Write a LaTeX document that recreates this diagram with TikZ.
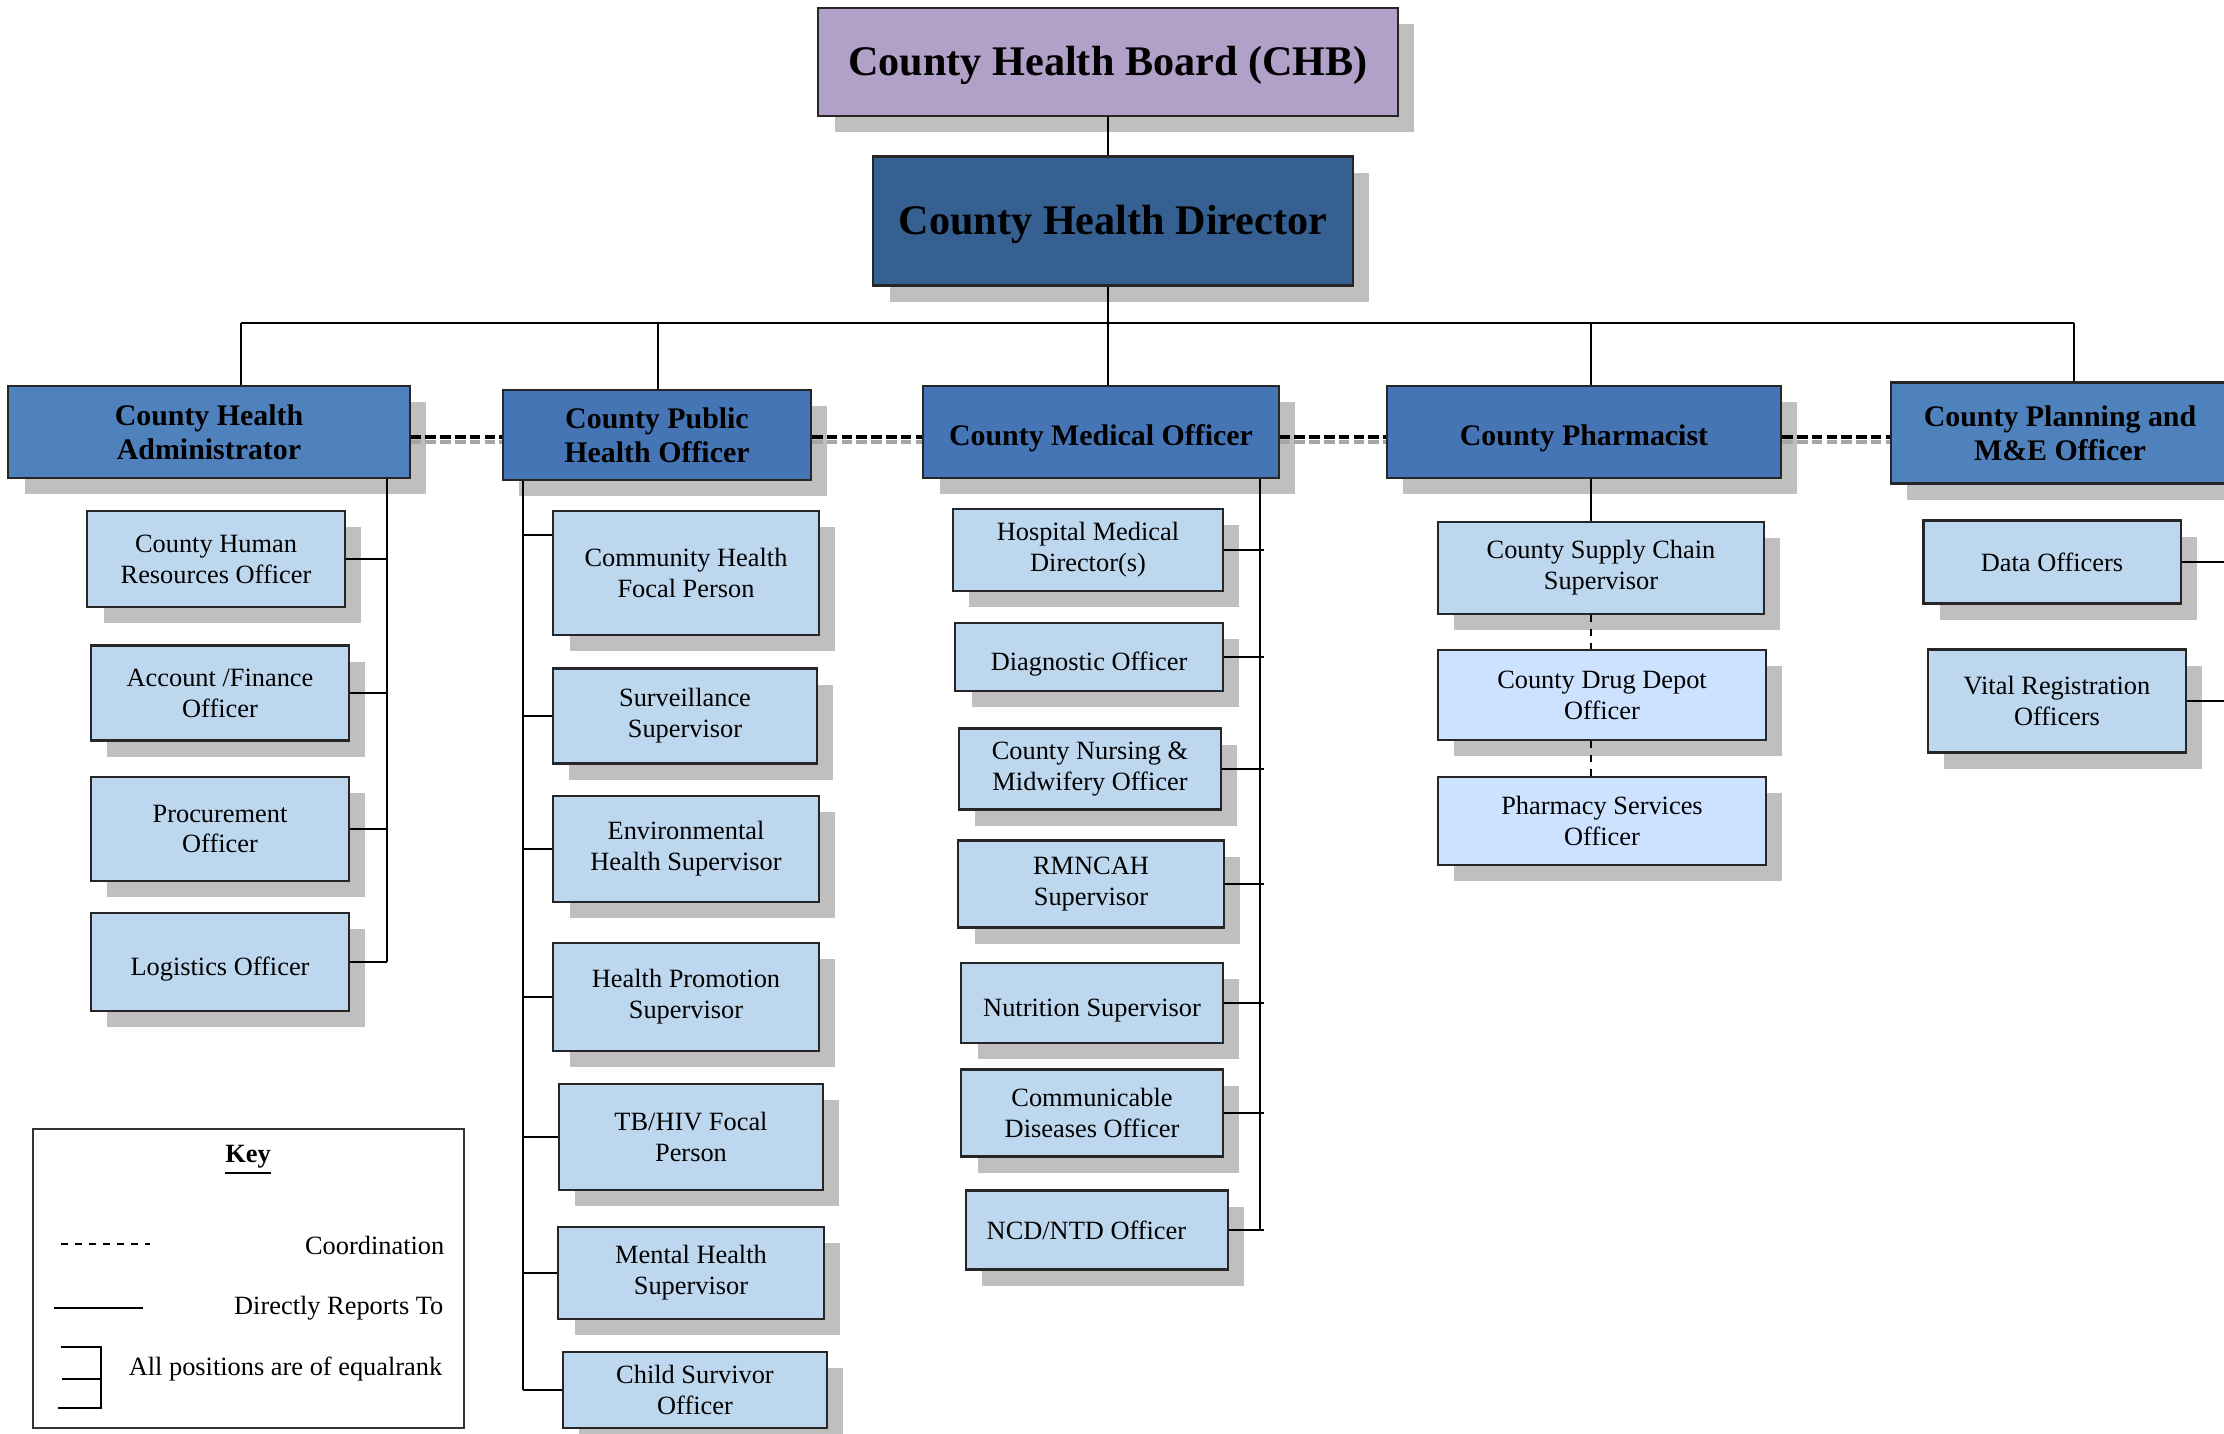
\documentclass[tikz,border=0pt]{standalone}
\usepackage{fontspec}
\setmainfont{Liberation Serif}
\usetikzlibrary{shadows}
\definecolor{board}{HTML}{B1A0C7}
\definecolor{director}{HTML}{366092}
\definecolor{headA}{HTML}{4F81BD}
\definecolor{headB}{HTML}{4675B5}
\definecolor{unit}{HTML}{BDD7EE}
\definecolor{depot}{HTML}{CCE2FF}
\definecolor{shade}{HTML}{BFBFBF}
\tikzset{
  box/.style={rectangle,draw=black!85,line width=0.6pt,inner sep=0pt,align=center,
    drop shadow={shadow xshift=4.6pt,shadow yshift=-4.6pt,fill=shade,opacity=1}},
  top node/.style={box,font=\fontsize{12}{14}\selectfont\bfseries},
  head node/.style={box,font=\fontsize{8.5}{9.7}\selectfont\bfseries},
  sub node/.style={box,fill=unit,font=\fontsize{7.5}{8.8}\selectfont},
  one line/.style={text height=1em,text depth=0.22em},
  wh/.style 2 args={minimum width=#1cm,minimum height=#2cm},
  link/.style={line width=0.6pt},
  coord/.style={line width=0.9pt,dash pattern=on 3pt off 1.2pt},
  coord shade/.style={coord,draw=black!35},
  key text/.style={anchor=east,inner sep=0pt,font=\fontsize{7.5}{8.8}\selectfont},
}

\begin{document}
\begin{tikzpicture}[x=0.01cm,y=-0.01cm]
\useasboundingbox (0,0) rectangle (2224,1434);

% board and director
\node[top node,one line,fill=board,wh={5.79}{1.08}] (chb) at (1108,62) {County Health Board (CHB)};
\node[top node,one line,fill=director,wh={4.79}{1.29}] (dir) at (1113,221) {County Health Director};

% heads
\node[head node,fill=headA,wh={4.01}{0.92}] (adm) at (209,432) {County Health\\Administrator};
\node[head node,fill=headB,wh={3.08}{0.90}] (ph)  at (657,435) {County Public\\Health Officer};
\node[head node,one line,fill=headB,wh={3.55}{0.92}] (med) at (1101,432) {County Medical Officer};
\node[head node,one line,fill=headB,wh={3.94}{0.92}] (phm) at (1584,432) {County Pharmacist};
\node[head node,fill=headA,wh={3.38}{1.01}] (pln) at (2060,433) {County Planning and\\M\&E Officer};

% administrator
\node[sub node,wh={2.57}{0.96}] (hr)   at (216,559) {County Human\\Resources Officer};
\node[sub node,wh={2.58}{0.95}] (fin)  at (220,693) {Account /Finance\\Officer};
\node[sub node,wh={2.58}{1.04}] (proc) at (220,829) {Procurement\\Officer};
\node[sub node,one line,wh={2.58}{0.98}] (logi) at (220,962) {Logistics Officer};

% public health
\node[sub node,wh={2.65}{1.24}] (chfp) at (686,573) {Community Health\\Focal Person};
\node[sub node,wh={2.64}{0.95}] (surv) at (685,716) {Surveillance\\Supervisor};
\node[sub node,wh={2.65}{1.06}] (env)  at (686,849) {Environmental\\Health Supervisor};
\node[sub node,wh={2.65}{1.08}] (hp)   at (686,997) {Health Promotion\\Supervisor};
\node[sub node,wh={2.64}{1.06}] (tb)   at (691,1137) {TB/HIV Focal\\Person};
\node[sub node,wh={2.65}{0.92}] (mh)   at (691,1273) {Mental Health\\Supervisor};
\node[sub node,wh={2.64}{0.76}] (cs)   at (695,1390) {Child Survivor\\Officer};

% medical
\node[sub node,wh={2.70}{0.82}] (hmd)   at (1088,550) {Hospital Medical\\Director(s)};
\node[sub node,one line,wh={2.67}{0.68}] (diag)  at (1089,657) {Diagnostic Officer};
\node[sub node,wh={2.62}{0.81}] (nurse) at (1090,769) {County Nursing \&\\Midwifery Officer};
\node[sub node,wh={2.65}{0.87}] (rmn)   at (1091,884) {RMNCAH\\Supervisor};
\node[sub node,one line,wh={2.61}{0.80}] (nut)   at (1092,1003) {Nutrition Supervisor};
\node[sub node,wh={2.61}{0.87}] (cdo)   at (1092,1113) {Communicable\\Diseases Officer};
\node[sub node,wh={2.62}{0.79}] (ncd)   at (1097,1230) {NCD/NTD Officer\hspace{6pt}};

% pharmacist
\node[sub node,wh={3.26}{0.92}] (scs) at (1601,568) {County Supply Chain\\Supervisor};
\node[sub node,fill=depot,wh={3.28}{0.90}] (ddo) at (1602,695) {County Drug Depot\\Officer};
\node[sub node,fill=depot,wh={3.28}{0.88}] (pso) at (1602,821) {Pharmacy Services\\Officer};

% planning
\node[sub node,wh={2.57}{0.83}] (dat) at (2052,562) {Data Officers};
\node[sub node,wh={2.58}{1.03}] (vro) at (2057,701) {Vital Registration\\Officers};

% connectors
\coordinate (b1) at (241,323);
\coordinate (b2) at (658,323);
\coordinate (b3) at (1108,323);
\coordinate (b4) at (1591,323);
\coordinate (b5) at (2074,323);
\coordinate (av) at (387,0);
\coordinate (pv) at (523,0);
\coordinate (mv) at (1260,0);
\coordinate (rim) at (2224,0);

\draw[link] (chb.south -| b3) -- (dir.north -| b3);
\draw[link] (dir.south -| b3) -- (b3);
\draw[link] (b1) -- (b5);
\foreach \b/\n in {b1/adm,b2/ph,b3/med,b4/phm,b5/pln}
  \draw[link] (\b) -- (\b |- \n.north);

\foreach \a/\b in {adm/ph,ph/med,med/phm,phm/pln}{
  \draw[coord shade] (\a.east |- 0,442) -- (\b.west |- 0,442);
  \draw[coord] (\a.east |- 0,437) -- (\b.west |- 0,437);
}

\draw[link] (adm.south -| av) -- (logi.east -| av);
\foreach \n in {hr,fin,proc,logi}
  \draw[link] (\n.east) -- (\n.east -| av);

\draw[link] (ph.south -| pv) -- (cs.west -| pv);
\draw[link] ([yshift=-7.1pt]chfp.north west) -- ([yshift=-7.1pt]chfp.north west -| pv);
\foreach \n in {surv,env,hp,tb,mh,cs}
  \draw[link] (\n.west) -- (\n.west -| pv);

\draw[link] (med.south -| mv) -- (ncd.east -| mv);
\foreach \n in {hmd,diag,nurse,rmn,nut,cdo,ncd}
  \draw[link] (\n.east) -- ([xshift=1pt]\n.east -| mv);

\draw[link] (b4 |- phm.south) -- (b4 |- scs.north);
\draw[link,dash pattern=on 2pt off 2pt] (b4 |- scs.south) -- (b4 |- ddo.north);
\draw[link,dash pattern=on 2pt off 2pt] (b4 |- ddo.south) -- (b4 |- pso.north);

\draw[link] (dat.east) -- (dat.east -| rim);
\draw[link] (vro.east) -- (vro.east -| rim);

% key
\node[draw=black!80,line width=0.5pt,wh={4.31}{2.99}] (key) at (248.5,1278.5) {};
\node[font=\fontsize{7.5}{8.8}\selectfont\bfseries] (keyt) at (248,1160) {\underline{Key}};
\node[key text] (k1) at (445,1245) {Coordination};
\node[key text] (k2) at (444,1308) {Directly Reports To};
\node[key text] (k3) at (443,1369) {All positions are of equalrank};
\draw[line width=0.5pt,dash pattern=on 2pt off 2pt] (61,1244) -- (150,1244);
\draw[link] (54,1308) -- (143,1308);
\draw[link] (61,1347) -- (101,1347) -- (101,1408) -- (58,1408);
\draw[link] (62,1379) -- (101,1379);
\end{tikzpicture}
\end{document}
